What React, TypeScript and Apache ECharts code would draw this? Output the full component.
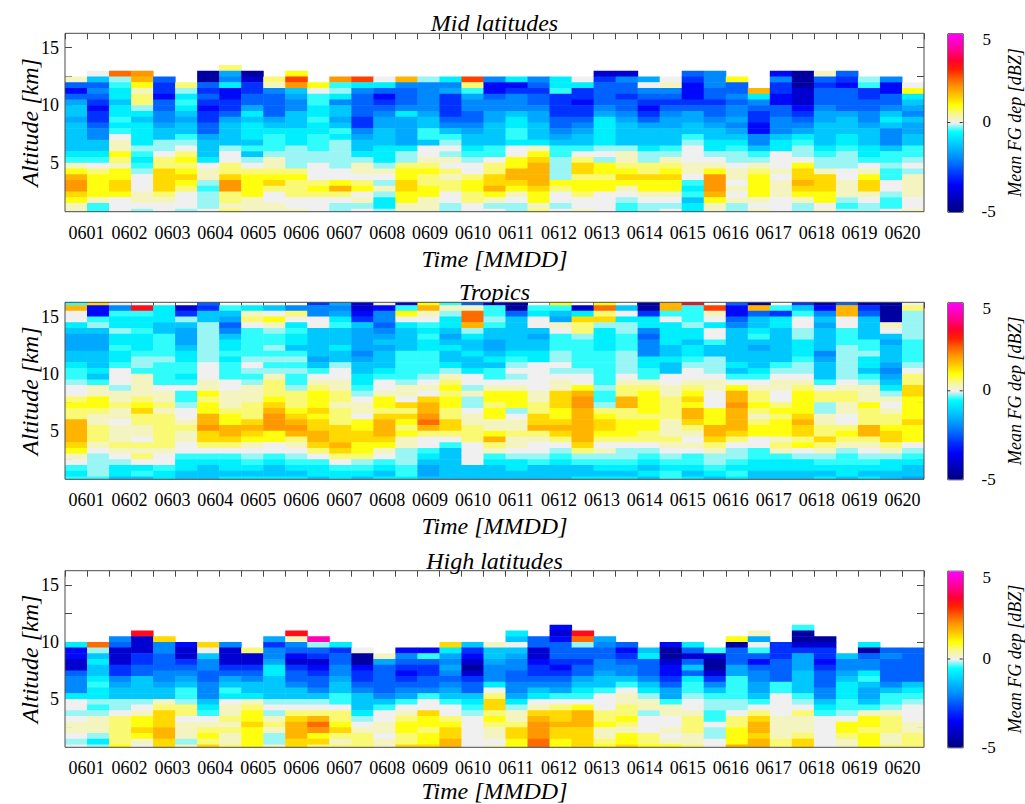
import React, { useEffect, useRef } from 'react';
import * as echarts from 'echarts';

// ---------- data ----------
const dayLabels = ['0601', '0602', '0603', '0604', '0605', '0606', '0607', '0608', '0609', '0610',
  '0611', '0612', '0613', '0614', '0615', '0616', '0617', '0618', '0619', '0620'];
const dayTickValues = [0, 1, 2, 3, 4, 5, 6, 7, 8, 9, 10, 11, 12, 13, 14, 15, 16, 17, 18, 19];
const altitudeCenters = [16.25, 15.75, 15.25, 14.75, 14.25, 13.75, 13.25, 12.75, 12.25, 11.75,
  11.25, 10.75, 10.25, 9.75, 9.25, 8.75, 8.25, 7.75, 7.25, 6.75, 6.25, 5.75, 5.25, 4.75,
  4.25, 3.75, 3.25, 2.75, 2.25, 1.75, 1.25, 0.75];
const altitudeTickValues = [2.5, 5, 7.5, 10, 12.5, 15];
const altitudeLabelValues = [5, 10, 15];
const colorbarLabels = ['5', '0', '-5'];
const panelTitles = ['Mid latitudes', 'Tropics', 'High latitudes'];

// departure levels [dBZ] of the colour classes seen in the cells
const fgLevels: Record<string, number> = {
  N: -4.6, D: -4.0, B: -3.4, b: -2.9, m: -2.4, l: -2.0, k: -1.6, c: -1.2, C: -0.7,
  q: -0.4, p: -0.18, w: 0, y: 0.25, v: 0.6, Y: 0.95, g: 1.35, G: 1.7, o: 2.0,
  O: 2.4, R: 2.75, r: 3.3, M: 4.4,
};

// one string per time bin, rows from 16.25 km (top) to 0.75 km (bottom); missing rows on top
const midLatitudes = [
  'ymBmkcckcccccCqyYGoogYyy', 'wcmlmbBbbmllccCqwvYYYYyqq', 'OpqCCcCCqCqwyyYvyYYggYwww',
  'oGYyvvpCcCCCCpqCqpwwwyywp', 'mbbBmmllkccppwvvggggvyww', 'vpCqCckccqpwvYvYgYvwwwp',
  'NNmbmbBbbmmkcccCwyypqpppw', 'vklCBBbbmkccccpwwvvgoovvyv', 'NDbbmmkCcCCCcqcpwvYYYYyyy',
  'vylmmmmkcCqqqpyyvYgvwwyy', 'YRockllcccCCCppppvYvvvwwy', 'YwqqCCqCCqqqppwwwvYvwww',
  'oqpClcckcqCpppppwwYGvwpp', 'RClmmmmbblkccCpyywvYwypw', 'wCmBbmlkkcccCCCpywpypCCp',
  'GlmmmlCkkkkkCppvYYggYYyy', 'plllllkccqqcwwyvYvvYYyyy', 'Clkbbbbmlcqpwpywvyvvwwpp',
  'RvqkllmmlkccCqpwwvYYvvww', 'lBBmllkkccccqqwvvggGYypw', 'CBblllcCCqqCwwYYGGgYywpp',
  'lmbmmlkkcccCyYgGGGGgYYyv', 'CCqbbbbmmlkcqqppppYvwwpw', 'wCbbBbbmlkccqwvggvYYvwwy',
  'DbmmmmlkCCCCCpwpYYvYYwwww', 'DlmmbmmlkccccpyyvYgYywpqq', 'kwlmbBbmkcccCppvvgYYywpp',
  'wylmbmlkkcccqpyvYgYYywpw', 'mbBBBbmkkccqpwwwyywqCqcCC', 'lllmmbmmlkccCCpwyYoooGYyy',
  'YmmlmllklkcCqppwyywywypp', 'GClmbbBBllcqpyvYYYYywy', 'BlbbBBmmlllcCCwwwywyyywww',
  'NNNDDDBbmlkCqppwYggGgYypp', 'ymbmmmlkkccccCqppygggYYwy', 'mbBmmmmkcccCCqpppwwyyypqp',
  'pqbbmmllkcccCCqwyYggywpp', 'lBBmmlcCclllcqqpqqwwpqqw', 'wYCcklckkccqqpwpyyyywwy',
];

const tropics = [
  'qGwwCckkkccCqqpwwvYvvGGGGgYywqCq', 'gBBqpckkkcccCcqyyYYvyyvvvywppppq', 'wlqCCpCCqCCqwwwpyyvyywyyyvywpCCc',
  '.rqCCqCCCqppqyyyyvYgvvyywvyvwCqc', '.CCCccqqqqpqqqqwyyvyvvvvvvywwqCC', '.DbpckkkcCCqqCqwqqpwwyvyywwqCCcc',
  'mbccpppppppwwwyyYvYYGGoggvwqCccc', '.qckmlcCCqCqqqwwyyyvYYGGgvwqCCcC', '.CyvwqqqqqpwpqpyyyvvvgGgYywpqCcC',
  '.cwYypqqpqpqpyvvvYgGoooYYwwqCccC', '.lvwCqCCcqpqpqqpvvvYgGoGvywpqCcC', 'bllwwccccckcqwyvYYYgYggGGgvwqCCc',
  'klkCqcccCccpwwyyvvyvvvgggGgvwqCC', 'DDBbckkkklkccCCqpwyywYYggYYvpqCc', 'wBllmlkckcccCqwwyYYvgGGGgYywqCcC',
  'DqYwCccccqqqqqpyywgvgYvYyypppqqC', 'YGywqCqCCqqqqpwywgGGoOGvwwqCckkc', 'qypCCckcCccCpyvYvYYvvggvwqcccccc',
  'myOOGpCccCccCwwpyppwyyvvvwwwwccc', 'DqqpqcckkcCcqqwyYYvYYyyYGvyqCccc', 'NNmccccccCqpwpwyYYYpwyyvyywpCCcc',
  '.qCwwckccCCwwwwwyyvvggGvywwpqccc', 'YqckywqqqppwpwyygggYYgGgvwpqCccc', '.DCgvvpqqqqqpwwYGooGGGGGGgvpqccC',
  'YOvgpCCCCqqqqqqpqqpvYggYvwypqCcC', '.cwCppqqqppppwyvvGGvvYYYvwppqCcC', 'NNbCClmlllCCqqyvYYYYvYYvvwpqCcCc',
  'GGqwCCCCccCccwwyyvvvvyyyvywpqCqq', 'rqqqpCCcCCqpwwyvYgYGGgvywywqqCcC', '.RywCwwqccpppwyywwwYYYGGgvyppqCc',
  'mBBmlccccccCcqwYGGoGGGGgvwppqCqC', 'NGmccCqckcccCqwyvvYvyvYYwwqqCCcc', '.qbCCccccccqpwyywwvYvYYYyvyqCCcc',
  'bcqwwppCCCqppwyvYYYYgGggvYwpCCcc', 'NBlckcccclkcccqwvvppyyvvgvypqCcC', 'mGGwwqqqppppppwyvvyywwvYvypqqCCc',
  'NbmccccqqpCCcqpyyyYvvvGGvywpqCcC', 'NNNNywckcccklkcCpywyvvYggvypCCcc', 'wvpppppqqqqpwvvggYYYYgYYYwpqCcck',
];

const highLatitudes = [
  'CBBDDmlllCwwpwyywpw', 'OpcCccCqCCpqpyyypCp', 'lmDDDbblkccppwvvvvvY',
  'rDDDbbmmccccpwyYYgYyw', 'gllmmmllkccyvgggGGgg', 'BDDbmlkcqqpvvwyyypy',
  'gwcllmmlllcCqwyvYvg', 'lDDDbmkcqCwyyvyvyyv', 'vDDbmlccCyvYYgYYYY',
  'kbllkCCccccpwpyvyppy', 'rylmBDbmmlccpwvgGGGgg', 'MpmbDBbmmlcpwvGOoYgv',
  'CbmmllkccqqwvvYgvyv', 'wNNBbbmlcccCpwyvvv', 'ykmmmmmlcqwwyywyy',
  'BlmbBbmlkqwyvYYvvg', 'BqmbbmmlqwwgYYvYYg', 'gCklklmlkcqwwvYggGG',
  'cbBDNDbmmcCqpwwwwww', 'yccklllCwvggvYvyywy', 'CcwckllmmllkCpyyvggYY',
  'mmDDBbbmlcCwygGoooOO', 'BDBmmmbBbmlkqwvggGggYY', 'rOpmmbmmkcCqwYGGGgggg',
  'klmmllkccqwwwvvYyyvY', 'mBbmllcqwyyvvYvyYYg', 'cCmmmlcCpyypwwwvvY',
  'BNNDBBbmkkqyywwywyY', 'CmDmcmCqqpwwyvvvyyv', 'qDNNDblcqppqqwppww',
  'YNmmmkkqqqqppwvvYYYG', 'ykwqmBmllkkcqwvgGGgGG', 'bbbmmmmqqwwwwyyyyvv',
  'qNNDbkkkccccqpwvyyyvgg', 'NDbbBbmmmllcCqwwwwww', 'cllkcCCCqqpwYYvyy',
  'CNmllCqckkcqyYYvYYY', 'mlmmmmlcqqpyvvvyyv', 'mmmmmmcCqpwwwyyvvv',
];

// ---------- styling / layout ----------
const colormap = [
  '#000080', '#0000A8', '#0000D0', '#0000F8', '#0028FF', '#0058FF', '#0088FF', '#00B0FF',
  '#00D8FF', '#00FFFF', '#F0F0F0', '#F7F790', '#FFFF00', '#FFC800', '#FF9800', '#FF6000',
  '#FF2000', '#FF0030', '#FF0080', '#FF00C0', '#FF00FF',
];
const SERIF = '"Liberation Serif", "Times New Roman", Times, serif';
const GRID_LEFT = 65;
const GRID_WIDTH = 859;
const panelTops = [33.3, 302.3, 570.7];
const panelHeights = [178.4, 177, 176.6];
const CB_LEFT = 947.3;
const CB_WIDTH = 15.4;
const AXIS_COLOR = '#4a4a4a';
const BIN_HALF = 0.25;

function buildCells(columns: string[]) {
  const cells: number[][] = [];
  columns.forEach((col, c) => {
    const full = col.padStart(altitudeCenters.length, '.').slice(-altitudeCenters.length);
    for (let r = 0; r < full.length; r++) {
      const ch = full[r];
      if (ch === '.' || fgLevels[ch] === undefined) continue;
      cells.push([c, altitudeCenters[r], fgLevels[ch]]);
    }
  });
  return cells;
}

const panelData = [midLatitudes, tropics, highLatitudes];

export default function App() {
  const ref = useRef<HTMLDivElement>(null);

  useEffect(() => {
    if (!ref.current) return;
    const chart = echarts.init(ref.current, undefined, { renderer: 'svg' });

    const grids: any[] = [];
    const xAxes: any[] = [];
    const yAxes: any[] = [];
    const series: any[] = [];
    const visualMaps: any[] = [];
    const graphics: any[] = [];
    const tickStyle = { color: AXIS_COLOR, width: 1 };

    panelData.forEach((cols, i) => {
      const top = panelTops[i];
      const h = panelHeights[i];
      grids.push({ left: GRID_LEFT, top, width: GRID_WIDTH, height: h, containLabel: false });

      // bottom axis: days (labels only)
      xAxes.push({
        type: 'value', gridIndex: i, position: 'bottom', min: -0.5, max: 19.5,
        axisLine: { show: false, onZero: false }, axisTick: { show: false }, splitLine: { show: false },
        axisLabel: {
          customValues: dayTickValues,
          formatter: (v: number) => dayLabels[Math.round(v)] ?? '',
          margin: 12, fontFamily: SERIF, fontSize: 18, color: '#000',
        },
      });
      // top axis: time bins (ticks only)
      xAxes.push({
        type: 'value', gridIndex: i, position: 'top', min: 0, max: cols.length, interval: 1,
        axisLine: { show: false, onZero: false }, splitLine: { show: false }, axisLabel: { show: false },
        axisTick: { show: true, inside: true, length: 6, lineStyle: tickStyle },
      });
      yAxes.push({
        type: 'value', gridIndex: i, position: 'left', min: 0.75, max: 16.25,
        axisLine: { show: false, onZero: false }, splitLine: { show: false },
        axisTick: { show: true, inside: true, length: 7, customValues: altitudeTickValues, lineStyle: tickStyle },
        axisLabel: { customValues: altitudeLabelValues, margin: 6, fontFamily: SERIF, fontSize: 18, color: '#000' },
      });
      yAxes.push({
        type: 'value', gridIndex: i, position: 'right', min: 0.75, max: 16.25,
        axisLine: { show: false, onZero: false }, splitLine: { show: false }, axisLabel: { show: false },
        axisTick: { show: true, inside: true, length: 7, customValues: altitudeTickValues, lineStyle: tickStyle },
      });

      series.push({
        type: 'custom',
        xAxisIndex: 2 * i + 1,
        yAxisIndex: 2 * i,
        clip: true,
        encode: { x: 0, y: 1 },
        data: buildCells(cols),
        renderItem: (_params: any, api: any) => {
          const c = api.value(0);
          const a = api.value(1);
          const p0 = api.coord([c, a + BIN_HALF]);
          const p1 = api.coord([c + 1, a - BIN_HALF]);
          return {
            type: 'rect',
            shape: { x: p0[0], y: p0[1], width: p1[0] - p0[0] + 0.5, height: p1[1] - p0[1] + 0.5 },
            style: { fill: api.visual('color') },
          };
        },
      });

      visualMaps.push({
        type: 'continuous', seriesIndex: i, dimension: 2, min: -5, max: 5,
        calculable: false, orient: 'vertical', left: CB_LEFT, top, itemWidth: CB_WIDTH, itemHeight: h,
        padding: 0, borderWidth: 1, borderColor: '#333', hoverLink: false,
        inRange: { color: colormap },
        textStyle: { fontSize: 1, color: 'rgba(0,0,0,0)' },
      });

      // frame
      graphics.push({
        type: 'rect', z: 50,
        shape: { x: GRID_LEFT, y: top, width: GRID_WIDTH, height: h },
        style: { fill: 'none', stroke: AXIS_COLOR, lineWidth: 1 },
      });
      // title
      graphics.push({
        type: 'text', z: 60, x: GRID_LEFT + GRID_WIDTH / 2, y: top - 10,
        style: { text: panelTitles[i], font: `italic 24px ${SERIF}`, fill: '#000', align: 'center', verticalAlign: 'middle' },
      });
      // x name
      graphics.push({
        type: 'text', z: 60, x: GRID_LEFT + GRID_WIDTH / 2, y: Math.min(top + h + 47, 791),
        style: { text: 'Time [MMDD]', font: `italic 24px ${SERIF}`, fill: '#000', align: 'center', verticalAlign: 'middle' },
      });
      // y name
      graphics.push({
        type: 'text', z: 60, x: 30, y: top + h / 2, rotation: Math.PI / 2,
        style: { text: 'Altitude [km]', font: `italic 24px ${SERIF}`, fill: '#000', align: 'center', verticalAlign: 'middle' },
      });
      // colorbar tick labels
      const cbY = [top + 6.5, top + h / 2 - 1, top + h];
      colorbarLabels.forEach((t, j) => {
        graphics.push({
          type: 'text', z: 60, x: t === '-5' ? 981.5 : 982.5, y: cbY[j],
          style: { text: t, font: `17px ${SERIF}`, fill: '#000', align: 'left', verticalAlign: 'middle' },
        });
      });
      // colorbar ticks at 0
      graphics.push({
        type: 'line', z: 60,
        shape: { x1: CB_LEFT, y1: top + h / 2, x2: CB_LEFT + 3, y2: top + h / 2 },
        style: { stroke: '#333', lineWidth: 1 },
      });
      graphics.push({
        type: 'line', z: 60,
        shape: { x1: CB_LEFT + CB_WIDTH - 3, y1: top + h / 2, x2: CB_LEFT + CB_WIDTH, y2: top + h / 2 },
        style: { stroke: '#333', lineWidth: 1 },
      });
      // colorbar title
      graphics.push({
        type: 'text', z: 60, x: 1015, y: top + h / 2, rotation: Math.PI / 2,
        style: { text: 'Mean FG dep [dBZ]', font: `italic 18px ${SERIF}`, fill: '#000', align: 'center', verticalAlign: 'middle' },
      });
    });

    chart.setOption({
      animation: false,
      backgroundColor: '#ffffff',
      grid: grids,
      xAxis: xAxes,
      yAxis: yAxes,
      visualMap: visualMaps,
      series,
      graphic: { elements: graphics },
    });

    return () => chart.dispose();
  }, []);

  return (
    <div
      ref={ref}
      style={{ position: 'fixed', left: 0, top: 0, width: 1025, height: 804, background: '#fff' }}
    />
  );
}
